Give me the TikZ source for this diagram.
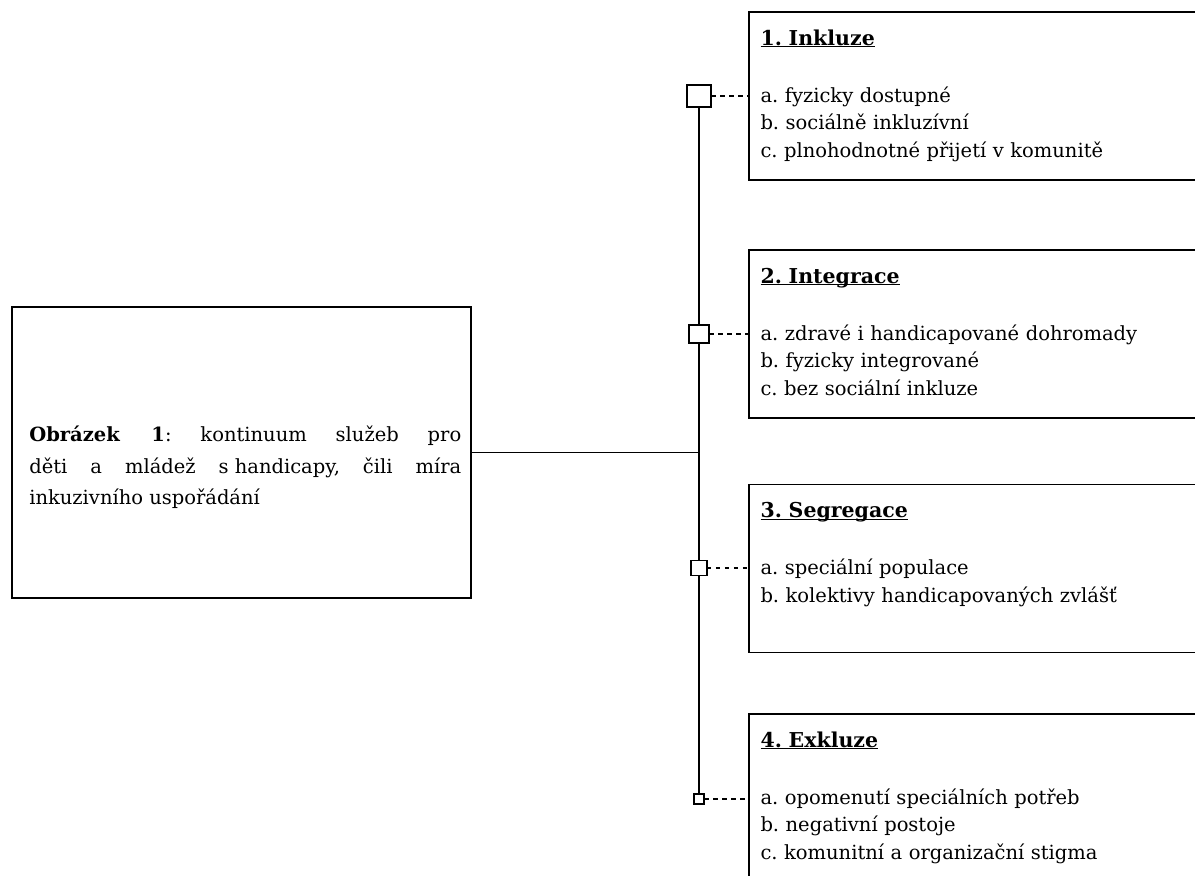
\documentclass[tikz,border=0pt]{standalone}
\usepackage{fontspec}
\setmainfont{DejaVu Serif}
\usetikzlibrary{calc}

\newcommand{\stagehead}[1]{\underline{\smash{\textbf{#1}}}}

\begin{document}
\frenchspacing
\begin{tikzpicture}[x=1pt,y=-1pt]
	\tikzstyle{every node}=[font=\fontsize{19.5}{27.5}\selectfont, inner sep=0pt, outer sep=0pt]
	\tikzstyle{stagebox}=[draw, line width=1.6pt, anchor=north west, minimum width=520pt, minimum height=168pt]
	\tikzstyle{stagetext}=[anchor=base west, text width=420pt, align=left]
	\tikzstyle{stagetitle}=[stagetext, font=\fontsize{20.5}{27.5}\selectfont]
	\tikzstyle{marker}=[draw, line width=1.6pt, fill=white]
	\tikzstyle{link}=[line width=1.4pt, dash pattern=on 4.5pt off 4.5pt]
	
	\fill[white] (0,0) rectangle (1195,876);
	\useasboundingbox (0,0) rectangle (1195,876);
	\clip (0,0) rectangle (1195,876);
	
	% left box
	\node[draw, line width=1.6pt, anchor=north west, minimum width=459.3pt, minimum height=291pt] (fig) at (11.7,306.7) {};
	\node[anchor=base west, text width=432pt, align=justify, font=\fontsize{19.5}{31.5}\selectfont] (figt) at (29.3,441.5) {\textbf{Obrázek 1}: kontinuum služeb pro\linebreak děti a mládež \mbox{s handicapy,} čili míra\linebreak inkuzivního uspořádání};
	
	% stages
	\node[stagebox] (s1) at (749,12) {};
	\node[stagetitle] (s1t) at (760.5,45) {\stagehead{1. Inkluze}};
	\node[stagetext] (s1i) at (760.5,102) {a. fyzicky dostupné\\b. sociálně inkluzívní\\c. plnohodnotné přijetí v komunitě};
	
	\node[stagebox] (s2) at (749,250) {};
	\node[stagetitle] (s2t) at (760.5,283) {\stagehead{2. Integrace}};
	\node[stagetext] (s2i) at (760.5,340) {a. zdravé i handicapované dohromady\\b. fyzicky integrované\\c. bez sociální inkluze};
	
	\node[stagebox] (s3) at (749,484.5) {};
	\node[stagetitle] (s3t) at (760.5,517.5) {\stagehead{3. Segregace}};
	\node[stagetext] (s3i) at (760.5,574.5) {a. speciální populace\\b. kolektivy handicapovaných zvlášť};
	
	\node[stagebox] (s4) at (749,714) {};
	\node[stagetitle] (s4t) at (760.5,747) {\stagehead{4. Exkluze}};
	\node[stagetext] (s4i) at (760.5,804) {a. opomenutí speciálních potřeb\\b. negativní postoje\\c. komunitní a organizační stigma};
	
	% markers on the axis
	\node[marker, minimum width=24pt, minimum height=22pt] (m1) at (699,96) {};
	\node[marker, minimum width=20pt, minimum height=18pt] (m2) at (699,334) {};
	\node[marker, minimum width=15.5pt, minimum height=15pt] (m3) at (699,568) {};
	\node[marker, minimum width=10pt, minimum height=10pt] (m4) at (699,799) {};
	
	\draw[line width=1.4pt] (m1) -- (m2) -- (m3) -- (m4);
	\draw[line width=1.4pt] (fig.east) -- (fig.east -| m1.center);
	
	\draw[link] (m1.east) -- (m1.east -| s1.west);
	\draw[link] (m2.east) -- (m2.east -| s2.west);
	\draw[link] (m3.east) -- (m3.east -| s3.west);
	\draw[link] (m4.east) -- (m4.east -| s4.west);
	
\end{tikzpicture}
\end{document}
